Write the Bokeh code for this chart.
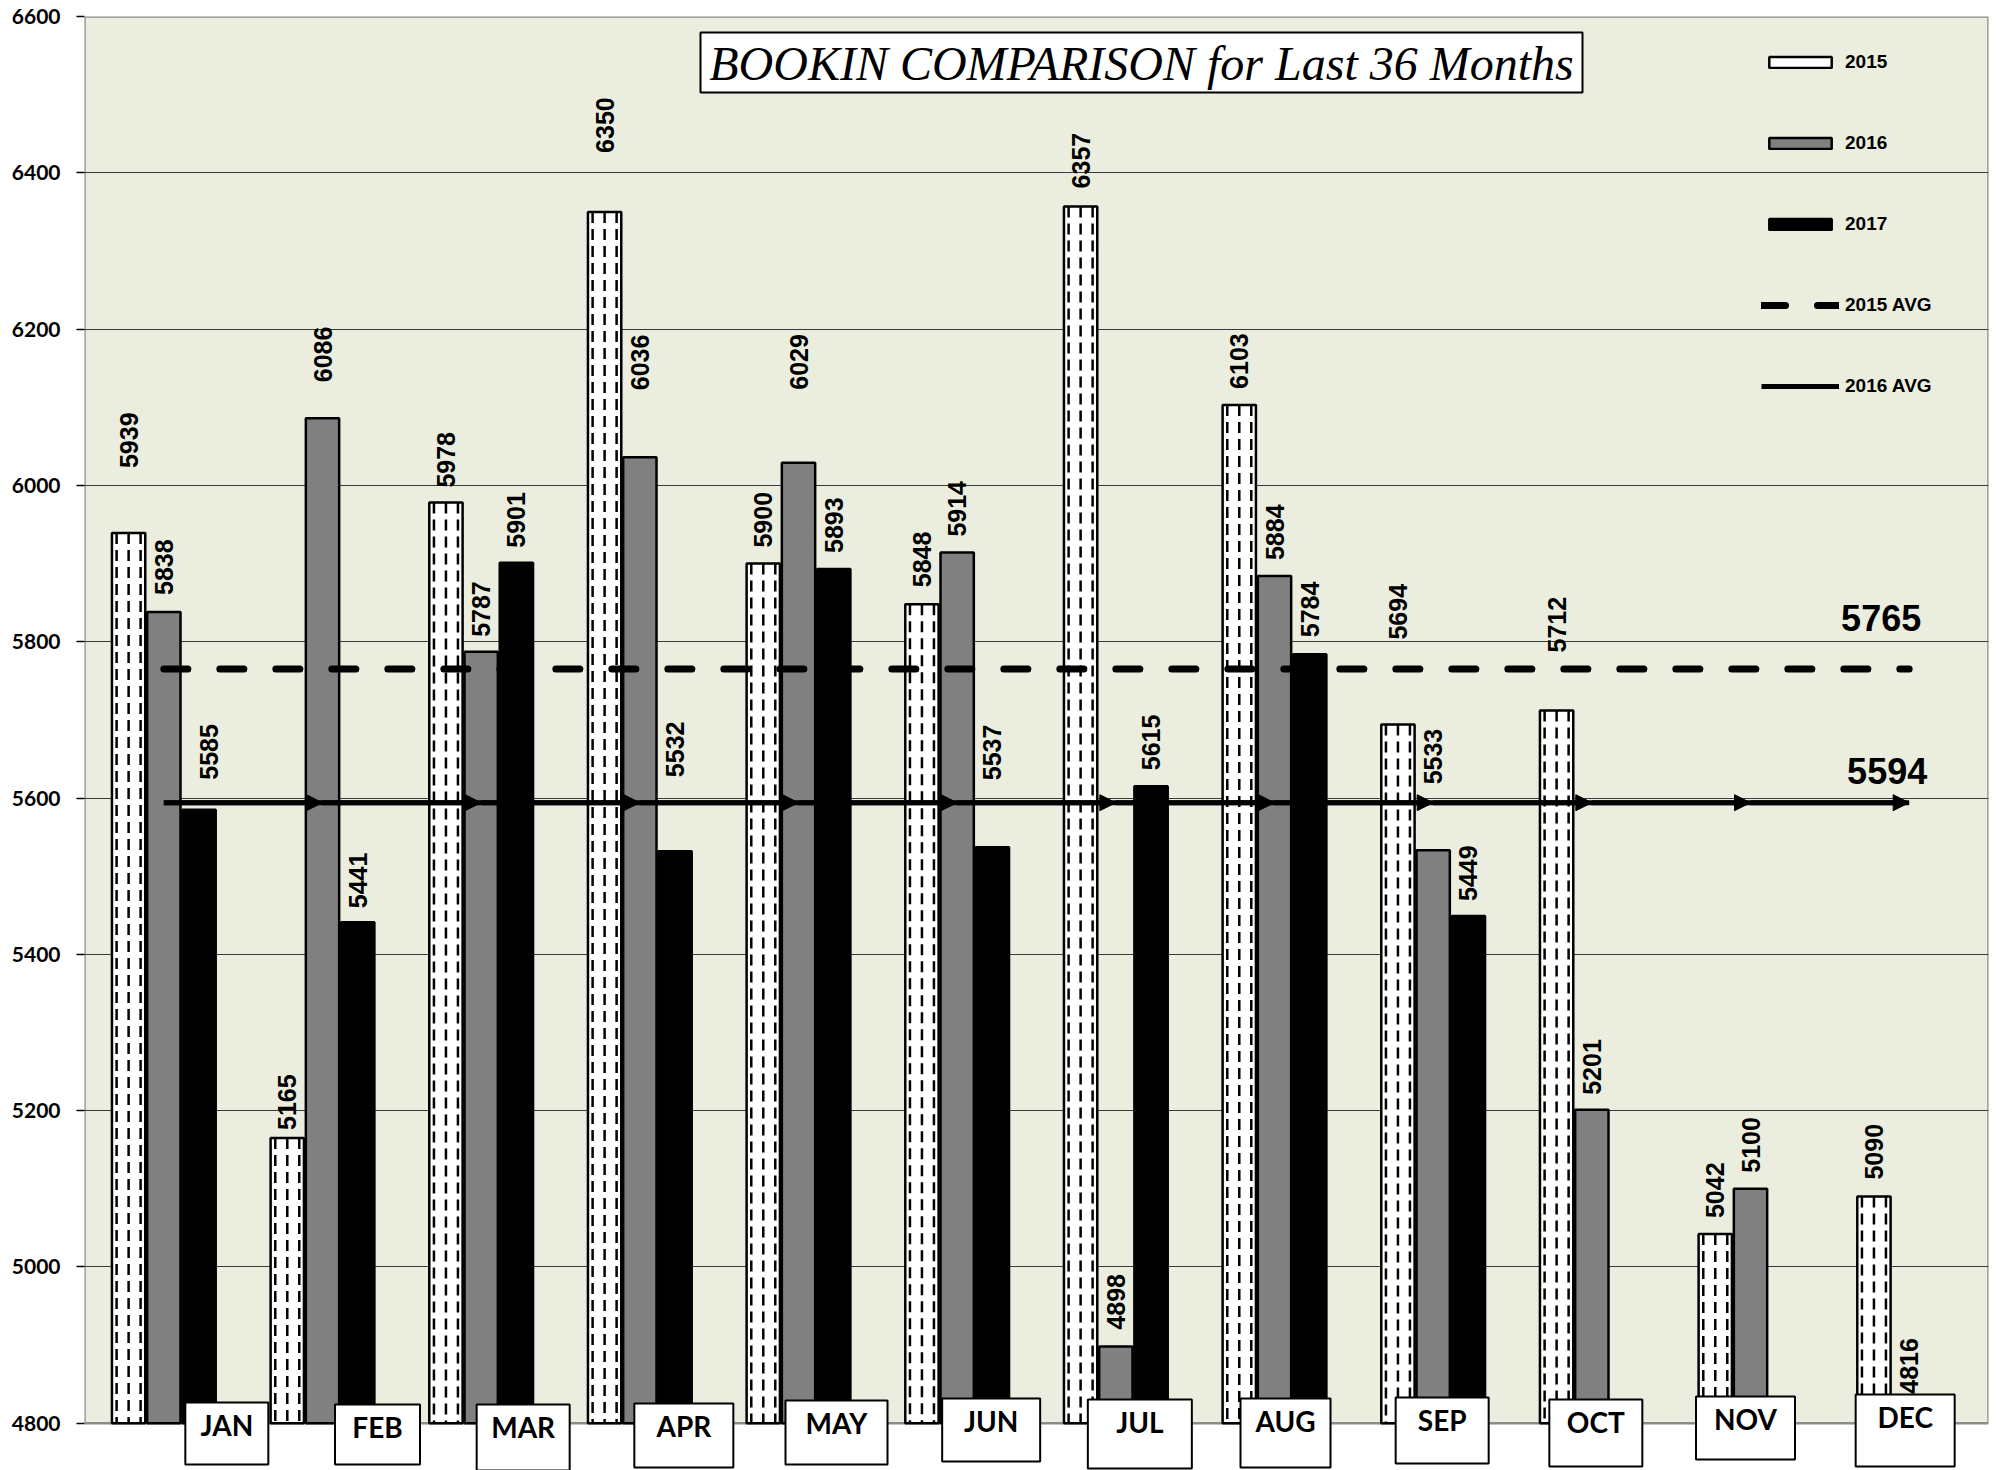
import numpy as np
from bokeh.plotting import figure
from bokeh.models import (Range1d, FixedTicker, BoxAnnotation, Label, Legend, LegendItem,
                          Arrow, NormalHead, ColumnDataSource)
from bokeh.core.properties import value
from bokeh.embed import file_html
from bokeh.resources import INLINE

# ---------------- data ----------------
months = ["JAN", "FEB", "MAR", "APR", "MAY", "JUN", "JUL", "AUG", "SEP", "OCT", "NOV", "DEC"]
bookins_2015 = [5939, 5165, 5978, 6350, 5900, 5848, 6357, 6103, 5694, 5712, 5042, 5090]
bookins_2016 = [5838, 6086, 5787, 6036, 6029, 5914, 4898, 5884, 5533, 5201, 5100, 4816]
bookins_2017 = [5585, 5441, 5901, 5532, 5893, 5537, 5615, 5784, 5449]
avg_2015 = 5765
avg_2016 = 5594
y_ticks = [4800, 5000, 5200, 5400, 5600, 5800, 6000, 6200, 6400, 6600]
title_text = "BOOKIN COMPARISON for Last 36 Months"
legend_labels = ["2015", "2016", "2017", "2015 AVG", "2016 AVG"]

# ---------------- layout (pixels) ----------------
W, H = 1996, 1470
LEFT, TOP, RIGHT = 84, 16, 8
FRAME_W = W - LEFT - RIGHT
FRAME_H = H - TOP
Y_BASE = 4800
Y_MAX = 6600
PPU = 1406.7 / 1800.0            # pixels per data unit
Y_MIN = Y_MAX - FRAME_H / PPU
PX_CAT = FRAME_W / 12.0
IMG_X0, IMG_Y0 = LEFT, TOP


def y_at(img_y):
    return Y_MAX - (img_y - IMG_Y0) / PPU


def x_at(img_x):
    return (img_x - IMG_X0) / PX_CAT


# label placement (pixel gaps above bar tops)
gap_2015 = [65, 8, 15, 59, 16, 17, 18, 16, 85, 58, 16, 17]
gap_2016 = [17, 36, 15, 67, 73, 16, 17, 16, 66, 15, 16, 17]
gap_2017 = [30, 14, 15, 74, 16, 67, 16, 17, 15]
dx_2017 = [10, 0, 0, 0, 0, 0, 0, 0, 0]

# month label boxes (pixels)
box_dx = [63, 55, 42, 44, 38, 34, 24, 11, 9, 4, -5, -4]
box_w = [83, 85, 93, 99, 102, 98, 104, 90, 93, 93, 99, 99]
box_top = [1402, 1404, 1404, 1403, 1400, 1398, 1399, 1398, 1397, 1399, 1396, 1394]
box_h = [62, 60, 66, 64, 64, 63, 69, 69, 66, 67, 63, 72]

BG = "#EBEEDE"

p = figure(width=W, height=H, output_backend="svg", toolbar_location=None,
           x_range=Range1d(0, 12), y_range=Range1d(Y_MIN, Y_MAX),
           x_axis_location=None, y_axis_location="left",
           min_border_left=LEFT, min_border_right=RIGHT, min_border_top=TOP, min_border_bottom=0,
           outline_line_color=None, background_fill_color="white", border_fill_color="white")

# plot area background
p.add_layout(BoxAnnotation(bottom=Y_BASE, top=Y_MAX, fill_color=BG, fill_alpha=1,
                           line_color="#8C8C8C", line_alpha=1, line_width=2.5, level="image"))

p.xgrid.visible = False
p.ygrid.ticker = FixedTicker(ticks=y_ticks[1:-1])
p.ygrid.grid_line_color = "#3A3A3A"
p.ygrid.grid_line_width = 1

ax = p.yaxis[0]
ax.ticker = FixedTicker(ticks=y_ticks)
ax.axis_line_color = None
ax.major_tick_out = 8
ax.major_tick_in = 0
ax.major_tick_line_color = "black"
ax.major_tick_line_width = 1.5
ax.minor_tick_line_color = None
ax.major_label_text_font = "Lato"
ax.major_label_text_font_style = "bold"
ax.major_label_text_font_size = "21px"
ax.major_label_text_color = "black"
ax.major_label_standoff = 16

# ---------------- bars ----------------
idx = np.arange(12)
centers = idx + 0.5
OFF = 0.222
BW = 0.21
x15 = centers - OFF
x16 = centers
x17 = centers[:len(bookins_2017)] + OFF

r15 = p.vbar(x=x15, top=bookins_2015, bottom=Y_BASE, width=BW,
             fill_color="white", line_color="black", line_width=2.5)
for k in (-12, 0, 12):
    xs = x15 + k / PX_CAT
    p.segment(x0=xs, y0=bookins_2015, x1=xs, y1=[Y_BASE] * 12,
              line_color="black", line_width=2.5, line_dash="11 6")
r16 = p.vbar(x=x16, top=bookins_2016, bottom=Y_BASE, width=BW,
             fill_color="#808080", line_color="black", line_width=2.5)
r17 = p.vbar(x=x17, top=bookins_2017, bottom=Y_BASE, width=BW,
             fill_color="black", line_color="black", line_width=2.5)

# ---------------- average lines ----------------
r_a15 = p.line(centers, [avg_2015] * 12, line_color="black", line_width=7,
               line_dash="24 32", line_cap="round")
r_a16 = p.line(centers, [avg_2016] * 12, line_color="black", line_width=5)
arr_src = ColumnDataSource(dict(x0=centers[:-1], x1=centers[1:], y=[avg_2016] * 11))
p.add_layout(Arrow(end=NormalHead(size=16, fill_color="black", line_color="black"),
                   x_start="x0", y_start="y", x_end="x1", y_end="y", source=arr_src,
                   line_width=5, line_color="black"))

# ---------------- data labels ----------------
lab_x = list(x15) + list(x16) + list(x17)
lab_y = bookins_2015 + bookins_2016 + bookins_2017
lab_t = [str(v) for v in lab_y]
lab_yo = [-g for g in gap_2015 + gap_2016 + gap_2017]
lab_xo = [0] * 24 + dx_2017
lab_src = ColumnDataSource(dict(x=lab_x, y=lab_y, t=lab_t, xo=lab_xo, yo=lab_yo))
p.text(x="x", y="y", text="t", source=lab_src, angle=np.pi / 2, x_offset="xo", y_offset="yo",
       text_align="left", text_baseline="middle", text_font=value("Liberation Sans"),
       text_font_style="bold", text_font_size="25px", text_color="black")

# average value labels
p.text(x=[centers[-1]], y=[avg_2015], text=[str(avg_2015)], x_offset=-28, y_offset=-51,
       text_align="center", text_baseline="alphabetic", text_font=value("Liberation Sans"),
       text_font_style="bold", text_font_size="36px", text_color="black")
p.text(x=[centers[-1]], y=[avg_2016], text=[str(avg_2016)], x_offset=-22, y_offset=-32,
       text_align="center", text_baseline="alphabetic", text_font=value("Liberation Sans"),
       text_font_style="bold", text_font_size="36px", text_color="black")

# ---------------- month label boxes ----------------
bx = [c + d / PX_CAT for c, d in zip(centers, box_dx)]
by = [y_at(t + h / 2.0) for t, h in zip(box_top, box_h)]
ty = [y_at(t + 22) for t in box_top]
p.rect(x=bx, y=by, width=box_w, height=box_h, width_units="screen", height_units="screen",
       fill_color="white", line_color="black", line_width=2)
p.text(x=bx, y=ty, text=months, text_align="center", text_baseline="middle",
       text_font=value("Lato"), text_font_style="bold", text_font_size="28px",
       text_color="black")

# ---------------- title ----------------
p.add_layout(BoxAnnotation(left=x_at(700), right=x_at(1582), top=y_at(32), bottom=y_at(92),
                           fill_color="white", fill_alpha=1, line_color="black",
                           line_alpha=1, line_width=2))
p.add_layout(Label(x=x_at(1141), y=y_at(62.5), text=title_text, text_align="center",
                   text_baseline="middle", text_font="Liberation Serif",
                   text_font_style="italic", text_font_size="48px", text_color="black"))

# ---------------- legend ----------------
items = [LegendItem(label=legend_labels[0], renderers=[r15]),
         LegendItem(label=legend_labels[1], renderers=[r16]),
         LegendItem(label=legend_labels[2], renderers=[r17]),
         LegendItem(label=legend_labels[3], renderers=[r_a15]),
         LegendItem(label=legend_labels[4], renderers=[r_a16])]
leg_top = 50 - TOP
leg_h = 5 * 24 + 4 * 57
leg = Legend(items=items, location=(1761 - LEFT, FRAME_H - leg_top - leg_h),
             glyph_width=78, glyph_height=14,
             label_height=24, spacing=57, padding=0, margin=0, label_standoff=6,
             border_line_color=None, background_fill_alpha=0,
             label_text_font="Liberation Sans", label_text_font_style="bold",
             label_text_font_size="19px", label_text_color="black")
p.add_layout(leg)

open("out.html", "w").write(file_html(p, INLINE))
